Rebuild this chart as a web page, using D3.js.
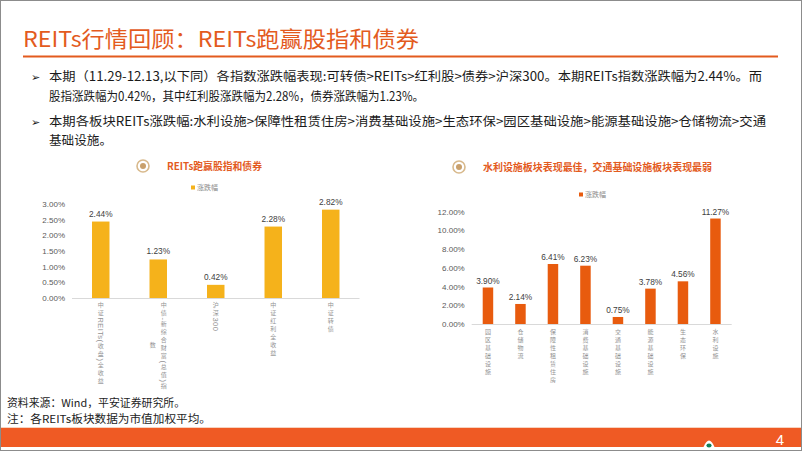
<!DOCTYPE html>
<html><head><meta charset="utf-8">
<script src="https://cdn.jsdelivr.net/npm/d3@7"></script>
<style>
html,body{margin:0;padding:0;background:#fff;}
svg{display:block;}
.vt{writing-mode:vertical-rl;text-orientation:mixed;}
</style></head>
<body>
<svg id="c" width="802" height="451"></svg>
<script>
// ---------------- data ----------------
const pageTitle = "REITs行情回顾：REITs跑赢股指和债券";
const bulletLines = [
  "本期（11.29-12.13,以下同）各指数涨跌幅表现:可转债>REITs>红利股>债券>沪深300。本期REITs指数涨跌幅为2.44%。而",
  "股指涨跌幅为0.42%，其中红利股涨跌幅为2.28%，债券涨跌幅为1.23%。",
  "本期各板块REITs涨跌幅:水利设施>保障性租赁住房>消费基础设施>生态环保>园区基础设施>能源基础设施>仓储物流>交通",
  "基础设施。"
];
const sourceLines = ["资料来源：Wind，平安证券研究所。", "注：各REITs板块数据为市值加权平均。"];
const pageNumber = "4";
const seriesName = "涨跌幅";

const leftTitle = "REITs跑赢股指和债券";
const leftCategories = ["中证REITs(收盘)全收益", "中债-新综合财富(总值)指数", "沪深300", "中证红利全收益", "中证转债"];
const leftValues = [2.44, 1.23, 0.42, 2.28, 2.82];
const leftTicks = [0, 0.5, 1, 1.5, 2, 2.5, 3];

const rightTitle = "水利设施板块表现最佳，交通基础设施板块表现最弱";
const rightCategories = ["园区基础设施", "仓储物流", "保障性租赁住房", "消费基础设施", "交通基础设施", "能源基础设施", "生态环保", "水利设施"];
const rightValues = [3.90, 2.14, 6.41, 6.23, 0.75, 3.78, 4.56, 11.27];
const rightTicks = [0, 2, 4, 6, 8, 10, 12];

// ---------------- style ----------------
const ORANGE = "#E35B1E";
const CJK = "'Noto Sans CJK SC','Noto Sans',sans-serif";
const NUM = "'Liberation Sans',Arial,sans-serif";

const svg = d3.select("#c");
svg.append("rect").attr("x",0).attr("y",0).attr("width",802).attr("height",451).attr("fill","#fff");

// page title
svg.append("text").attr("x",23).attr("y",47).attr("font-family",CJK).attr("font-size",22)
  .attr("fill",ORANGE).attr("textLength",396).attr("lengthAdjust","spacingAndGlyphs").text(pageTitle);
svg.append("line").attr("x1",23).attr("x2",778).attr("y1",56.5).attr("y2",56.5)
  .attr("stroke",ORANGE).attr("stroke-width",2);

// bullets
const bulletY = [81, 100.5, 126, 145];
const bulletEnd = [762, 424, 766, 112];
bulletLines.forEach((s,i)=>{
  svg.append("text").attr("x",49).attr("y",bulletY[i]).attr("font-family",CJK).attr("font-size",12.5)
    .attr("fill","#1a1a1a").attr("textLength",bulletEnd[i]-49).attr("lengthAdjust","spacingAndGlyphs").text(s);
});
[bulletY[0], bulletY[2]].forEach(y=>{
  svg.append("text").attr("x",31).attr("y",y).attr("font-family","'DejaVu Sans',sans-serif")
    .attr("font-size",11).attr("fill","#1a1a1a").text("➢");
});

// source
const srcY = [407, 423];
const srcEnd = [185, 211];
sourceLines.forEach((s,i)=>{
  svg.append("text").attr("x",7).attr("y",srcY[i]).attr("font-family",CJK).attr("font-size",11)
    .attr("fill","#222").attr("textLength",srcEnd[i]-7).attr("lengthAdjust","spacingAndGlyphs").text(s);
});

// footer
svg.append("rect").attr("x",0).attr("y",427).attr("width",802).attr("height",1).attr("fill","#F7D3C0");
svg.append("rect").attr("x",0).attr("y",428).attr("width",802).attr("height",19).attr("fill","#EF5A24");
svg.append("path").attr("d","M703.5,447 Q709,434 714.5,447 Z").attr("fill","#fff");
svg.append("ellipse").attr("cx",709).attr("cy",445.5).attr("rx",2.6).attr("ry",2).attr("fill","#12805a");
svg.append("text").attr("x",780).attr("y",445).attr("text-anchor","middle").attr("font-family",NUM)
  .attr("font-size",15).attr("fill","#fff").text(pageNumber);
svg.append("rect").attr("x",0.5).attr("y",0.5).attr("width",801).attr("height",450)
  .attr("fill","none").attr("stroke","#8c8c8c").attr("stroke-width",1);

// ---------------- helpers ----------------
function icon(cx, cy){
  svg.append("circle").attr("cx",cx).attr("cy",cy).attr("r",6).attr("fill","#fff")
    .attr("stroke","#D8B98C").attr("stroke-width",1.6);
  svg.append("circle").attr("cx",cx).attr("cy",cy).attr("r",3).attr("fill","#C9A06C");
}

function vText(g, s, x, y, o){
  const t = g.append("text").attr("class","vt").attr("x",x).attr("y",y)
    .attr("font-family",CJK).attr("font-size",o.fs).attr("fill",o.color);
  const runs = [];
  for (const ch of s){
    const latin = /[\x00-\x7F]/.test(ch);
    if (runs.length && runs[runs.length-1].latin === latin) runs[runs.length-1].t += ch;
    else runs.push({t:ch, latin});
  }
  runs.forEach(r=>{
    const ts = t.append("tspan").attr("letter-spacing", r.latin ? 0.4 : o.ls).text(r.t);
    if (r.latin) ts.attr("font-family",NUM).attr("font-size",o.lfs);
  });
  return t;
}

function verticalLabel(g, text, cx, top, o){
  const chars = Array.from(text);
  const measure = s => { const t = vText(g, s, 0, 0, o); const L = t.node().getComputedTextLength(); t.remove(); return L; };
  const cols = []; let cur = "";
  chars.forEach(ch=>{
    if (cur && measure(cur+ch) > o.maxH){ cols.push(cur); cur = ch; }
    else cur += ch;
  });
  if (cur) cols.push(cur);
  const hs = cols.map(measure);
  const maxH = d3.max(hs);
  const n = cols.length;
  cols.forEach((s,ci)=>{
    const x = cx + (n-1)*o.colSp/2 - ci*o.colSp;
    vText(g, s, x, top + (maxH-hs[ci])/2, o);
  });
}

function barChart(cfg){
  const g = svg.append("g");
  const x = d3.scaleBand().domain(cfg.cats).range(cfg.xr).paddingInner(cfg.pad).paddingOuter(cfg.pad/2);
  const y = d3.scaleLinear().domain(cfg.yd).range(cfg.yr);
  icon(cfg.iconX, cfg.titleY-4);
  g.append("text").attr("x",cfg.titleX).attr("y",cfg.titleY).attr("font-family",CJK).attr("font-size",10)
    .attr("font-weight","bold").attr("fill",ORANGE).attr("textLength",cfg.titleW).attr("lengthAdjust","spacingAndGlyphs")
    .text(cfg.title);
  g.append("rect").attr("x",cfg.legX).attr("y",cfg.legY-2).attr("width",4).attr("height",4).attr("fill",cfg.color);
  g.append("text").attr("x",cfg.legX+6).attr("y",cfg.legY+2.5).attr("font-family",CJK).attr("font-size",7)
    .attr("fill","#8c8c8c").text(seriesName);
  const ya = g.append("g").attr("transform",`translate(${cfg.xr[0]-4},0)`)
    .call(d3.axisLeft(y).tickValues(cfg.ticks).tickSize(0).tickPadding(3).tickFormat(d=>d.toFixed(2)+"%"));
  ya.select(".domain").remove();
  ya.selectAll("text").attr("font-family",NUM).attr("font-size",8).attr("fill","#595959");
  g.selectAll("rect.bar").data(cfg.vals).join("rect").attr("class","bar")
    .attr("x",(d,i)=>x(cfg.cats[i])).attr("width",x.bandwidth())
    .attr("y",d=>y(d)).attr("height",d=>y(0)-y(d)).attr("fill",cfg.color);
  g.append("line").attr("x1",cfg.xr[0]).attr("x2",cfg.xr[1]).attr("y1",y(0)+0.5).attr("y2",y(0)+0.5)
    .attr("stroke","#D9D9D9").attr("stroke-width",1);
  g.selectAll("text.val").data(cfg.vals).join("text").attr("class","val")
    .attr("x",(d,i)=>x(cfg.cats[i])+x.bandwidth()/2).attr("y",d=>y(d)-cfg.valOff)
    .attr("text-anchor","middle").attr("font-family",NUM).attr("font-size",8.3).attr("fill","#404040")
    .text(d=>d.toFixed(2)+"%");
  cfg.cats.forEach(c=>{
    verticalLabel(g, c, x(c)+x.bandwidth()/2, y(0)+cfg.labTop, {fs:6, ls:2, lfs:7.5, maxH:94, colSp:11, color:"#939393"});
  });
}

barChart({cats:leftCategories, vals:leftValues, ticks:leftTicks, xr:[72,359.5], pad:0.696,
  yd:[0,3], yr:[298,204], color:"#F5B21B", title:leftTitle, titleX:167, titleY:170, titleW:95, iconX:143,
  legX:191, legY:187.5, valOff:5, labTop:3.5});
barChart({cats:rightCategories, vals:rightValues, ticks:rightTicks, xr:[471.7,731.7], pad:0.677,
  yd:[0,12], yr:[324,211.7], color:"#E85B0E", title:rightTitle, titleX:483, titleY:171, titleW:229, iconX:459,
  legX:579, legY:194.5, valOff:4, labTop:4.5});
</script>
</body></html>
